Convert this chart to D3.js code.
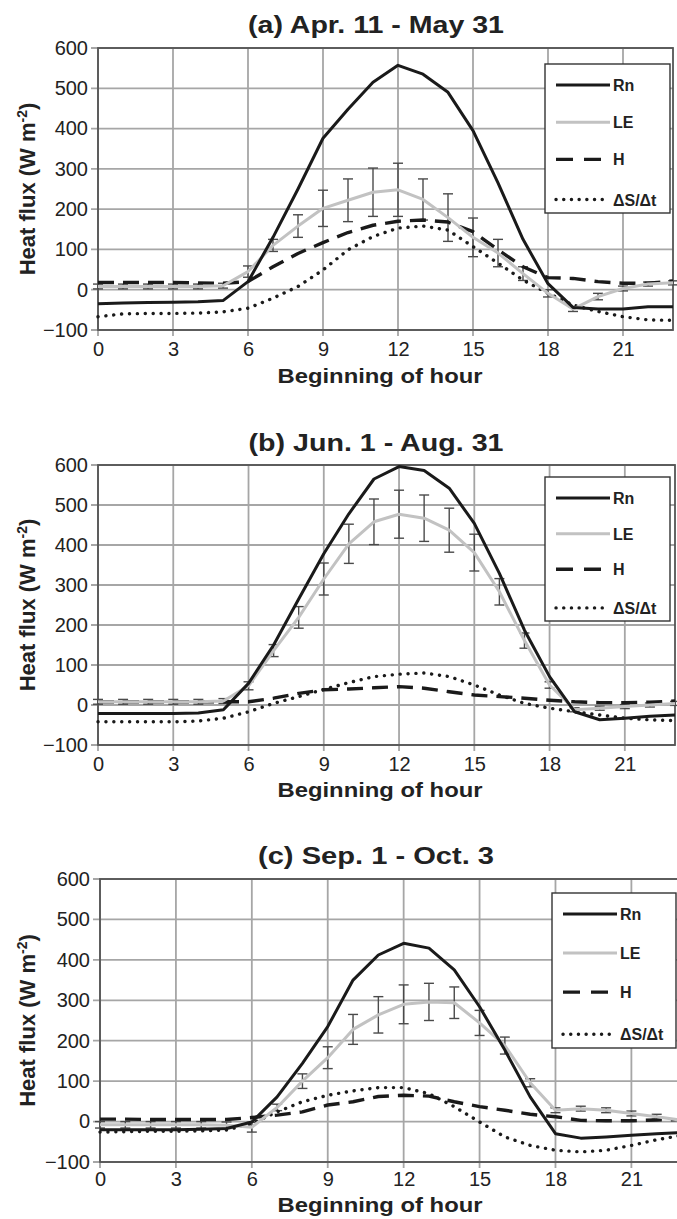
<!DOCTYPE html>
<html>
<head>
<meta charset="utf-8">
<script src="https://cdn.jsdelivr.net/npm/d3@7"></script>
<style>
  body { margin: 0; background: #fff; }
  svg { display: block; font-family: "Liberation Sans", Arial, sans-serif; }
</style>
</head>
<body>
<div id="chart"></div>
<script>
// hours of day (beginning of hour)
const hours = [0,1,2,3,4,5,6,7,8,9,10,11,12,13,14,15,16,17,18,19,20,21,22,23];
const xTicks = [0,3,6,9,12,15,18,21];
const yTicks = [-100,0,100,200,300,400,500,600];
const titles = ['(a) Apr. 11 - May 31', '(b) Jun. 1 - Aug. 31', '(c) Sep. 1 - Oct. 3'];
const seriesNames = ['Rn', 'LE', 'H', '\u0394S/\u0394t'];

// (a) Apr. 11 - May 31
const rnA = [-35,-33,-32,-31,-30,-27,20,130,250,376,448,515,557,535,490,395,265,125,15,-44,-48,-48,-42,-42];
const leA = [8,8,8,8,8,10,45,110,158,202,222,242,248,224,179,130,91,40,-9,-48,-17,3,14,17];
const leErrA = [6,6,6,6,6,6,14,15,28,45,53,60,66,51,59,48,34,17,9,6,8,6,5,5];
const hA = [18,18,18,18,17,16,20,57,90,117,142,160,170,173,168,144,99,57,30,28,20,16,16,22];
const dsA = [-67,-60,-59,-59,-58,-55,-46,-21,8,49,99,132,153,158,148,107,66,24,-9,-38,-54,-67,-75,-76];

// (b) Jun. 1 - Aug. 31
const rnB = [-21,-21,-21,-21,-20,-12,54,150,265,378,478,565,596,586,542,454,329,187,71,-17,-37,-33,-28,-25];
const leB = [8,8,8,8,8,10,48,136,219,315,403,458,477,467,437,381,283,161,50,-12,-8,-4,0,4];
const leErrB = [6,6,6,6,6,6,10,15,27,40,49,57,60,58,55,46,33,19,8,5,5,5,5,5];
const hB = [8,8,8,8,8,8,8,17,29,38,40,43,46,42,33,25,21,17,12,8,6,6,7,10];
const dsB = [-42,-42,-42,-42,-40,-33,-17,4,21,39,56,71,77,80,71,50,25,4,-8,-17,-25,-33,-37,-39];

// (c) Sep. 1 - Oct. 3
const rnC = [-20,-20,-20,-20,-19,-17,-1,61,144,235,350,412,441,429,375,284,177,61,-30,-41,-38,-34,-30,-27];
const leC = [-8,-8,-8,-8,-8,-9,-14,35,100,158,228,264,290,296,294,244,188,96,28,32,28,20,12,3];
const leErrC = [8,8,8,8,8,8,12,8,18,27,37,45,48,46,39,31,21,10,6,6,6,6,6,6];
const hC = [6,6,5,5,5,5,10,16,24,41,49,62,65,63,49,37,28,18,12,3,2,2,4,5];
const dsC = [-26,-25,-24,-24,-23,-21,-5,24,49,65,76,84,84,69,37,-1,-38,-59,-71,-75,-71,-59,-45,-34];

const panelData = [
  { rn: rnA, le: leA, leErr: leErrA, h: hA, ds: dsA },
  { rn: rnB, le: leB, leErr: leErrB, h: hB, ds: dsB },
  { rn: rnC, le: leC, leErr: leErrC, h: hC, ds: dsC }
];

// layout of each panel on the page
const layout = [
  { left: 98, right: 673, top: 48, bottom: 330, titleY: 33, tickY: 356, xLabY: 383, legend: { x: 545, y: 64, w: 125, h: 149 } },
  { left: 98, right: 675, top: 465, bottom: 745, titleY: 451, tickY: 771, xLabY: 797, legend: { x: 545, y: 477, w: 125, h: 144 } },
  { left: 100, right: 682, top: 879, bottom: 1162, titleY: 864, tickY: 1186, xLabY: 1212, legend: { x: 552, y: 893, w: 124, h: 155 } }
];
const titleWidths = [256, 255, 236];

const width = 677, height = 1219;
const svg = d3.select('#chart').append('svg')
  .attr('width', width)
  .attr('height', height);

const styles = [
  { key: 'rn', color: '#1a1a1a', width: 3, dash: null, legDash: null, legEnd: 65, cap: 'butt' },
  { key: 'le', color: '#c2c2c2', width: 3, dash: null, legDash: null, legEnd: 65, cap: 'butt' },
  { key: 'h', color: '#1a1a1a', width: 3.4, dash: '16 9', legDash: '17 11', legEnd: 65, cap: 'butt' },
  { key: 'ds', color: '#1a1a1a', width: 3.4, dash: '0.1 7.8', legDash: '0.1 7.6', legEnd: 58, cap: 'round' }
];

panelData.forEach((d, i) => {
  const L = layout[i];
  const x = d3.scaleLinear().domain([0, 23]).range([L.left, L.right]);
  const y = d3.scaleLinear().domain([-100, 600]).range([L.bottom, L.top]);
  const g = svg.append('g');

  // grid
  g.append('g').selectAll('line')
    .data(yTicks).enter().append('line')
    .attr('x1', L.left - 7).attr('x2', L.right)
    .attr('y1', v => y(v)).attr('y2', v => y(v))
    .attr('stroke', '#a6a6a6').attr('stroke-width', 1.8);
  g.append('g').selectAll('line')
    .data(xTicks).enter().append('line')
    .attr('x1', v => x(v)).attr('x2', v => x(v))
    .attr('y1', L.top).attr('y2', L.bottom + 6)
    .attr('stroke', '#a6a6a6').attr('stroke-width', 1.8);

  // frame
  g.append('rect')
    .attr('x', L.left).attr('y', L.top)
    .attr('width', x(23) - L.left).attr('height', L.bottom - L.top)
    .attr('fill', 'none').attr('stroke', '#555').attr('stroke-width', 1.8);

  // tick labels
  const yAxis = d3.axisLeft(y).tickValues(yTicks).tickSize(0).tickPadding(10);
  const ya = g.append('g').attr('transform', `translate(${L.left},0)`).call(yAxis);
  ya.select('.domain').remove();
  ya.selectAll('text').attr('font-size', 20).attr('fill', '#222').attr('font-family', 'Liberation Sans, Arial, sans-serif');

  const xAxis = d3.axisBottom(x).tickValues(xTicks).tickSize(0).tickPadding(0);
  const xa = g.append('g').attr('transform', `translate(0,${L.tickY})`).call(xAxis);
  xa.select('.domain').remove();
  xa.selectAll('text').attr('dy', 0).attr('font-size', 20).attr('fill', '#222').attr('font-family', 'Liberation Sans, Arial, sans-serif');

  const line = arr => d3.line()
    .x((v, j) => x(hours[j]))
    .y(v => y(v))(arr);

  // LE error bars (drawn under the lines)
  const eb = g.append('g').attr('stroke', '#4a4a4a').attr('stroke-width', 1.4);
  hours.forEach((hr, j) => {
    const c = d.le[j], e = d.leErr[j];
    const cx = x(hr);
    eb.append('line').attr('x1', cx).attr('x2', cx).attr('y1', y(c - e)).attr('y2', y(c + e));
    eb.append('line').attr('x1', cx - 5).attr('x2', cx + 5).attr('y1', y(c - e)).attr('y2', y(c - e));
    eb.append('line').attr('x1', cx - 5).attr('x2', cx + 5).attr('y1', y(c + e)).attr('y2', y(c + e));
  });

  ['ds', 'h', 'le', 'rn'].forEach(k => {
    const s = styles.find(t => t.key === k);
    g.append('path')
      .attr('d', line(d[k]))
      .attr('fill', 'none')
      .attr('stroke', s.color)
      .attr('stroke-width', s.width)
      .attr('stroke-dasharray', s.dash)
      .attr('stroke-linecap', s.cap)
      .attr('stroke-linejoin', 'round');
  });

  // title
  g.append('text')
    .attr('x', 376).attr('y', L.titleY)
    .attr('text-anchor', 'middle')
    .attr('font-size', 23).attr('font-weight', 'bold').attr('fill', '#222')
    .attr('textLength', titleWidths[i]).attr('lengthAdjust', 'spacingAndGlyphs')
    .text(titles[i]);

  // x label
  g.append('text')
    .attr('x', 380).attr('y', L.xLabY)
    .attr('text-anchor', 'middle')
    .attr('font-size', 21).attr('font-weight', 'bold').attr('fill', '#222')
    .attr('textLength', 205).attr('lengthAdjust', 'spacingAndGlyphs')
    .text('Beginning of hour');

  // y label
  const yl = g.append('text')
    .attr('transform', `translate(35,${(L.top + L.bottom) / 2}) rotate(-90)`)
    .attr('text-anchor', 'middle')
    .attr('font-size', 22).attr('font-weight', 'bold').attr('fill', '#222');
  yl.append('tspan').text('Heat flux (W m');
  yl.append('tspan').attr('dy', -8).attr('font-size', 14).text('-2');
  yl.append('tspan').attr('dy', 8).text(')');

  // legend
  const lg = L.legend;
  const leg = g.append('g').attr('transform', `translate(${lg.x},${lg.y})`);
  leg.append('rect')
    .attr('width', lg.w).attr('height', lg.h)
    .attr('fill', '#fff').attr('stroke', '#333').attr('stroke-width', 1.4);
  const rowStep = (lg.h - 30) / 3.2;
  seriesNames.forEach((name, k) => {
    const s = styles[k];
    const ry = 21 + k * rowStep + (k === 3 ? 3 : 0);
    leg.append('line')
      .attr('x1', 11).attr('x2', s.legEnd).attr('y1', ry).attr('y2', ry)
      .attr('stroke', s.color).attr('stroke-width', s.width)
      .attr('stroke-dasharray', s.legDash).attr('stroke-linecap', s.cap);
    leg.append('text')
      .attr('x', 68).attr('y', ry + 6)
      .attr('font-size', 16).attr('font-weight', 'bold').attr('fill', '#222')
      .text(name);
  });
});
</script>
</body>
</html>
